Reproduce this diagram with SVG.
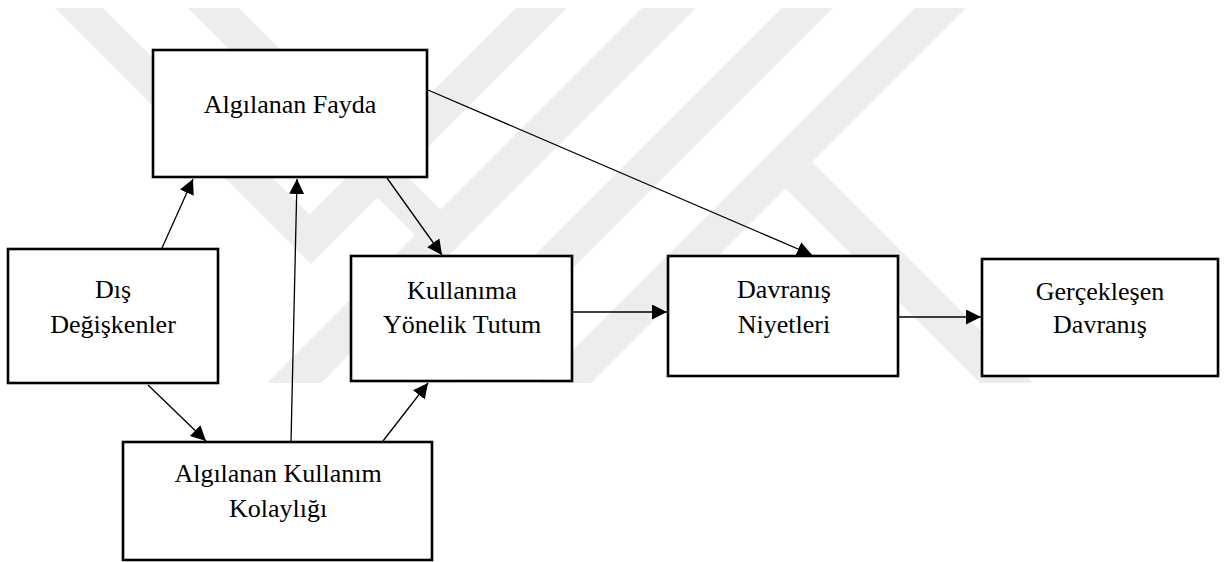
<svg xmlns="http://www.w3.org/2000/svg" width="1224" height="562" viewBox="0 0 1224 562">
  <style>
    .box { fill: #ffffff; stroke: #000000; stroke-width: 2.6; }
    .lbl { font-family: "Liberation Serif", "Times New Roman", serif; font-size: 26px; fill: #000000; text-anchor: middle; }
    .edge { fill: none; stroke: #000000; stroke-width: 1.3; marker-end: url(#arrow); }
    .wm { fill: #ededed; stroke: none; }
  </style>
  <defs>
    <marker id="arrow" markerUnits="userSpaceOnUse" markerWidth="15" markerHeight="15" refX="15" refY="7.5" orient="auto">
      <path d="M0,0 L15,7.5 L0,15 Z" fill="#000000"/>
    </marker>
  </defs>
  <rect x="0" y="0" width="1224" height="562" fill="#ffffff"/>
  <g id="watermark">
    <polygon class="wm" points="55,8 103,8 309.5,214.5 516,8 567,8 311,264"/>
    <polygon class="wm" points="188,8 239,8 466,235 415,235"/>
    <polygon class="wm" points="642,8 696,8 321,383 267,383"/>
    <polygon class="wm" points="782,8 833,8 458,383 407,383"/>
    <polygon class="wm" points="915,8 966,8 591,383 540,383"/>
    <polygon class="wm" points="785.5,188.5 812,162 1033,383 980,383"/>
  </g>
  <g id="connectors">
    <line class="edge" x1="162" y1="248" x2="193" y2="179"/>
    <line class="edge" x1="291" y1="442" x2="297" y2="179"/>
    <line class="edge" x1="387" y1="178" x2="442" y2="255"/>
    <line class="edge" x1="428" y1="90" x2="812" y2="255"/>
    <line class="edge" x1="572" y1="312" x2="667" y2="312"/>
    <line class="edge" x1="898" y1="317" x2="981" y2="317"/>
    <line class="edge" x1="148" y1="385" x2="206" y2="441"/>
    <line class="edge" x1="383" y1="441" x2="428" y2="383"/>
  </g>
  <g id="algilanan-fayda">
    <rect class="box" x="153" y="50" width="274" height="127"/>
    <text class="lbl" x="290" y="113">Algılanan Fayda</text>
  </g>
  <g id="dis-degiskenler">
    <rect class="box" x="8" y="249" width="210" height="134"/>
    <text class="lbl" x="113" y="298">Dış</text>
    <text class="lbl" x="113" y="333">Değişkenler</text>
  </g>
  <g id="kullanima-yonelik-tutum">
    <rect class="box" x="351" y="256" width="221" height="125"/>
    <text class="lbl" x="462" y="299">Kullanıma</text>
    <text class="lbl" x="462" y="333">Yönelik Tutum</text>
  </g>
  <g id="davranis-niyetleri">
    <rect class="box" x="668" y="256" width="230" height="120"/>
    <text class="lbl" x="784" y="298">Davranış</text>
    <text class="lbl" x="784" y="333">Niyetleri</text>
  </g>
  <g id="gerceklesen-davranis">
    <rect class="box" x="982" y="259" width="236" height="117"/>
    <text class="lbl" x="1100" y="300">Gerçekleşen</text>
    <text class="lbl" x="1100" y="333">Davranış</text>
  </g>
  <g id="algilanan-kullanim-kolayligi">
    <rect class="box" x="123" y="442" width="309" height="118"/>
    <text class="lbl" x="278" y="482">Algılanan Kullanım</text>
    <text class="lbl" x="278" y="517">Kolaylığı</text>
  </g>
</svg>
